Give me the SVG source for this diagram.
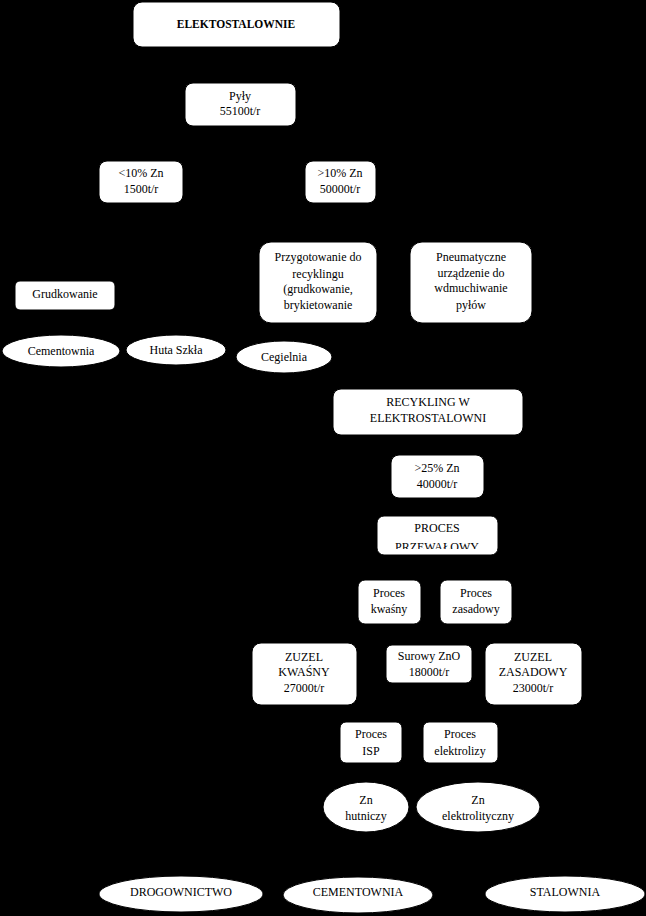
<svg xmlns="http://www.w3.org/2000/svg" width="646" height="916" viewBox="0 0 646 916">
<style>
.bx{fill:#fff;stroke:#000;stroke-width:1}
.el{fill:#fff;stroke:#000;stroke-width:1}
text{font-family:"Liberation Serif","Times New Roman",serif;font-size:12px;fill:#000;text-anchor:middle}
.b{font-weight:bold;font-size:11.5px}
.cn{stroke:#000;stroke-width:1;fill:none}
</style>
<defs>
<clipPath id="cp1"><rect x="377" y="516" width="121" height="33"/></clipPath>
</defs>
<rect x="0" y="0" width="646" height="916" fill="#000"/>
<g id="connectors">
<line class="cn" x1="236" y1="47" x2="236" y2="83"/>
<line class="cn" x1="240" y1="126" x2="240" y2="161"/>
</g>
<g id="n1"><rect class="bx" x="133" y="2" width="207" height="45" rx="9"/><text class="b" x="236" y="28">ELEKTOSTALOWNIE</text></g>
<g id="n2"><rect class="bx" x="185" y="83" width="111" height="43" rx="8"/><text x="240" y="100">Pyły</text><text x="240" y="115">55100t/r</text></g>
<g id="n3"><rect class="bx" x="99" y="161" width="84" height="42" rx="8"/><text x="141" y="177">&lt;10% Zn</text><text x="141" y="193">1500t/r</text></g>
<g id="n4"><rect class="bx" x="305" y="161" width="71" height="42" rx="8"/><text x="340" y="177">&gt;10% Zn</text><text x="340" y="193">50000t/r</text></g>
<g id="n5"><rect class="bx" x="259" y="242" width="118" height="81" rx="12"/><text x="318" y="261">Przygotowanie do</text><text x="318" y="278">recyklingu</text><text x="318" y="293">(grudkowanie,</text><text x="318" y="309">brykietowanie</text></g>
<g id="n6"><rect class="bx" x="410" y="242" width="122" height="81" rx="12"/><text x="471" y="261">Pneumatyczne</text><text x="471" y="277">urządzenie do</text><text x="471" y="292">wdmuchiwanie</text><text x="471" y="309">pyłów</text></g>
<g id="n7"><rect class="bx" x="15" y="281" width="100" height="29" rx="5"/><text x="65" y="298">Grudkowanie</text></g>
<g id="n8"><ellipse class="el" cx="61" cy="351" rx="59" ry="16"/><text x="61" y="355">Cementownia</text></g>
<g id="n9"><ellipse class="el" cx="176" cy="350" rx="50" ry="15"/><text x="176" y="354">Huta Szkła</text></g>
<g id="n10"><ellipse class="el" cx="284" cy="357" rx="48" ry="16"/><text x="284" y="361">Cegielnia</text></g>
<g id="n11"><rect class="bx" x="333" y="389" width="190" height="46" rx="8"/><text x="428" y="406">RECYKLING W</text><text x="428" y="422">ELEKTROSTALOWNI</text></g>
<g id="n12"><rect class="bx" x="391" y="455" width="93" height="43" rx="8"/><text x="437" y="472">&gt;25% Zn</text><text x="437" y="488">40000t/r</text></g>
<g id="n13"><rect class="bx" x="377" y="516" width="121" height="39" rx="7"/><text x="437" y="532">PROCES</text><text x="437" y="551" clip-path="url(#cp1)">PRZEWAŁOWY</text></g>
<g id="n14"><rect class="bx" x="358" y="580" width="63" height="44" rx="7"/><text x="389" y="597">Proces</text><text x="389" y="613">kwaśny</text></g>
<g id="n15"><rect class="bx" x="440" y="580" width="72" height="44" rx="7"/><text x="476" y="597">Proces</text><text x="476" y="613">zasadowy</text></g>
<g id="n16"><rect class="bx" x="252" y="643" width="105" height="62" rx="9"/><text x="304" y="661">ZUZEL</text><text x="304" y="676">KWAŚNY</text><text x="304" y="692">27000t/r</text></g>
<g id="n17"><rect class="bx" x="386" y="645" width="86" height="38" rx="6"/><text x="429" y="660">Surowy ZnO</text><text x="429" y="676">18000t/r</text></g>
<g id="n18"><rect class="bx" x="485" y="643" width="97" height="62" rx="9"/><text x="533" y="661">ZUZEL</text><text x="533" y="676">ZASADOWY</text><text x="533" y="692">23000t/r</text></g>
<g id="n19"><rect class="bx" x="340" y="722" width="62" height="41" rx="6"/><text x="371" y="738">Proces</text><text x="371" y="755">ISP</text></g>
<g id="n20"><rect class="bx" x="423" y="722" width="75" height="41" rx="6"/><text x="460" y="738">Proces</text><text x="460" y="755">elektrolizy</text></g>
<g id="n21"><ellipse class="el" cx="366" cy="807" rx="43" ry="25"/><text x="366" y="804">Zn</text><text x="366" y="820">hutniczy</text></g>
<g id="n22"><ellipse class="el" cx="478" cy="807" rx="62" ry="25"/><text x="478" y="804">Zn</text><text x="478" y="820">elektrolityczny</text></g>
<g id="n23"><ellipse class="el" cx="181" cy="894" rx="82" ry="18"/><text x="181" y="896">DROGOWNICTWO</text></g>
<g id="n24"><ellipse class="el" cx="358" cy="895" rx="75" ry="18"/><text x="358" y="896">CEMENTOWNIA</text></g>
<g id="n25"><ellipse class="el" cx="565" cy="894" rx="80" ry="18"/><text x="565" y="896">STALOWNIA</text></g>
</svg>
